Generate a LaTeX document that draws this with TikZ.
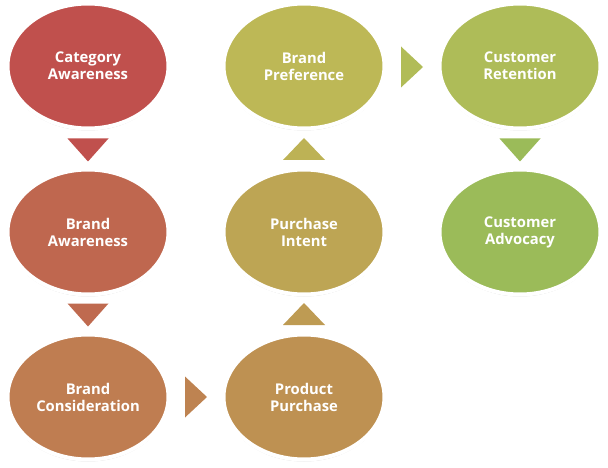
\documentclass[tikz,border=0pt]{standalone}
\usepackage{fontspec}
\setmainfont{Open Sans}
\usetikzlibrary{shadows,shapes.geometric}
\definecolor{c0}{RGB}{192,80,77}
\definecolor{c1}{RGB}{191,103,79}
\definecolor{c2}{RGB}{191,125,81}
\definecolor{c3}{RGB}{190,145,82}
\definecolor{c4}{RGB}{189,165,84}
\definecolor{c5}{RGB}{189,184,86}
\definecolor{c6}{RGB}{174,188,88}
\definecolor{c7}{RGB}{155,187,89}
\definecolor{a0}{RGB}{192,80,77}
\definecolor{a1}{RGB}{191,106,79}
\definecolor{a2}{RGB}{190,131,81}
\definecolor{a3}{RGB}{190,155,83}
\definecolor{a4}{RGB}{189,178,85}
\definecolor{a5}{RGB}{177,188,87}
\definecolor{a6}{RGB}{155,187,89}
\tikzset{
  stage/.style={ellipse, minimum width=161pt, minimum height=125pt, inner sep=0pt,
    draw=white, line width=4pt, text=white, align=center,
    font=\fontsize{14.8}{17}\selectfont\bfseries,
    general shadow={shadow xshift=0pt, shadow yshift=-2pt, fill=black, opacity=0.18}}
}
\begin{document}
\begin{tikzpicture}[x=1pt,y=-1pt]
\useasboundingbox (0,0) rectangle (608,468);
\node[stage, fill=c0] (n0) at (88,66) {Category\\Awareness};
\node[stage, fill=c1] (n1) at (88,232) {Brand\\Awareness};
\node[stage, fill=c2] (n2) at (88,397) {Brand\\Consideration};
\node[stage, fill=c3] (n3) at (304,397) {Product\\Purchase};
\node[stage, fill=c4] (n4) at (304,232) {Purchase\\Intent};
\node[stage, fill=c5] (n5) at (304,66) {Brand\\Preference};
\node[stage, fill=c6] (n6) at (520,66) {Customer\\Retention};
\node[stage, fill=c7] (n7) at (520,232) {Customer\\Advocacy};
% arrows
\coordinate (t0) at (88,150);
\fill[a0] ([shift={(-20.5,-11.5)}]t0) -- ([shift={(20.5,-11.5)}]t0) -- ([shift={(0,11.5)}]t0) -- cycle;
\coordinate (t1) at (88,315);
\fill[a1] ([shift={(-20.5,-11.5)}]t1) -- ([shift={(20.5,-11.5)}]t1) -- ([shift={(0,11.5)}]t1) -- cycle;
\coordinate (t2) at (196,397);
\fill[a2] ([shift={(-11,-20.5)}]t2) -- ([shift={(-11,20.5)}]t2) -- ([shift={(11,0)}]t2) -- cycle;
\coordinate (t3) at (304,314);
\fill[a3] ([shift={(-21,11)}]t3) -- ([shift={(21,11)}]t3) -- ([shift={(0,-11)}]t3) -- cycle;
\coordinate (t4) at (304,149);
\fill[a4] ([shift={(-21,11)}]t4) -- ([shift={(21,11)}]t4) -- ([shift={(0,-11)}]t4) -- cycle;
\coordinate (t5) at (412,67);
\fill[a5] ([shift={(-11,-20.5)}]t5) -- ([shift={(-11,20.5)}]t5) -- ([shift={(11,0)}]t5) -- cycle;
\coordinate (t6) at (520,150);
\fill[a6] ([shift={(-20.5,-11.5)}]t6) -- ([shift={(20.5,-11.5)}]t6) -- ([shift={(0,11.5)}]t6) -- cycle;
\end{tikzpicture}
\end{document}
